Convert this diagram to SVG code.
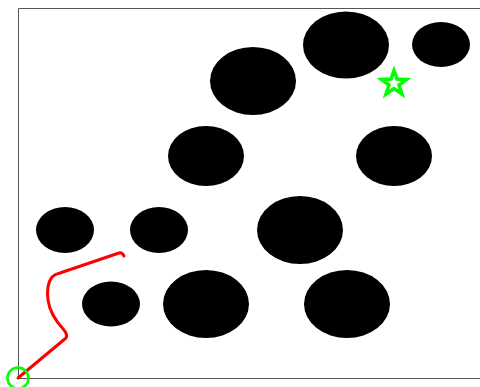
<svg xmlns="http://www.w3.org/2000/svg" width="480" height="387" viewBox="0 0 480 387">
<style>
.obs{fill:#000}
</style>
<rect width="480" height="387" fill="#fff"/>
<path d="M18.5,8.5 H480 M18.5,8.5 V378.5 H480" fill="none" stroke="#555" stroke-width="1"/>
<g>
<ellipse class="obs" cx="346" cy="45" rx="43" ry="33.5"/>
<ellipse class="obs" cx="441" cy="44.5" rx="29" ry="22.5"/>
<ellipse class="obs" cx="253" cy="81" rx="43" ry="34"/>
<ellipse class="obs" cx="206" cy="156" rx="38" ry="30"/>
<ellipse class="obs" cx="394" cy="156" rx="38" ry="30"/>
<ellipse class="obs" cx="65" cy="230" rx="29" ry="23"/>
<ellipse class="obs" cx="159" cy="230" rx="29" ry="23"/>
<ellipse class="obs" cx="300" cy="230" rx="43" ry="34"/>
<ellipse class="obs" cx="111" cy="304" rx="29" ry="22.5"/>
<ellipse class="obs" cx="206" cy="304" rx="43" ry="34"/>
<ellipse class="obs" cx="347" cy="304" rx="43" ry="34"/>
</g>
<path d="M18,378 L66,338 Q68,335 64,330 Q50,315 48,300 Q46,285 52,277 Q55,274 60,273 L119,253 Q122,252 124,256" fill="none" stroke="#f00" stroke-width="3" stroke-linejoin="round" stroke-linecap="round"/>
<circle cx="18" cy="378" r="10.5" fill="none" stroke="#0f0" stroke-width="2.5"/>
<polygon points="394,70.5 397,79 406.5,79.5 399,85 402,94 394,88.5 386,94 389,85 381.5,79.5 391,79" fill="none" stroke="#0f0" stroke-width="3.5" stroke-linejoin="miter"/>
</svg>
